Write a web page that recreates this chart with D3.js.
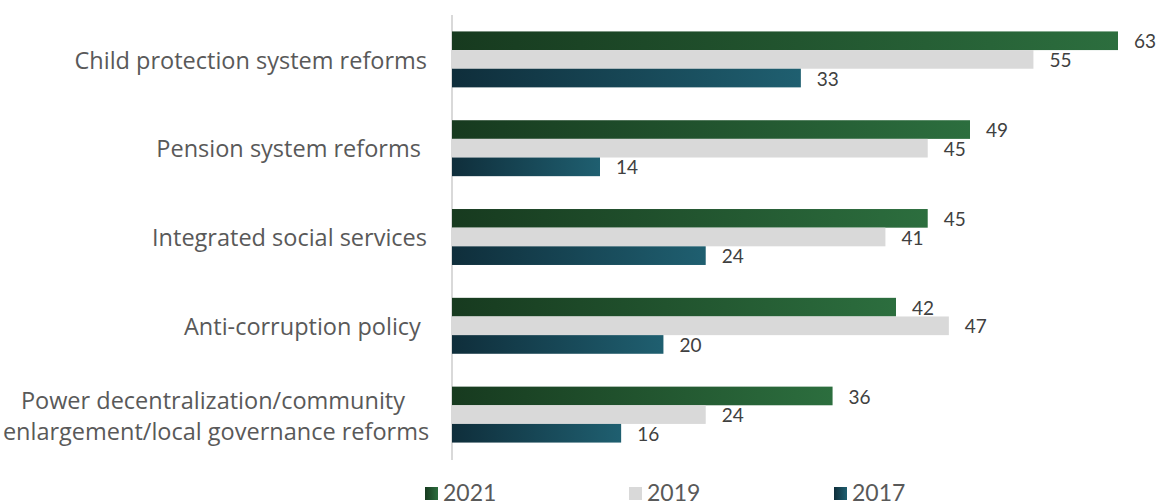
<!DOCTYPE html>
<html>
<head>
<meta charset="utf-8">
<script src="https://cdn.jsdelivr.net/npm/d3@7"></script>
<style>
  html, body { margin: 0; padding: 0; background: #fff; }
  svg { display: block; font-family: Lato, "Open Sans", sans-serif; }
  .catlabel { white-space: pre; }
</style>
</head>
<body>
<svg id="chart" width="1158" height="502"></svg>
<script>
// Categories, top to bottom; multi-line names are split on "|"
const categories = [
  "Child protection system reforms",
  "Pension system reforms ",
  "Integrated social services",
  "Anti-corruption policy ",
  "Power decentralization/community |enlargement/local governance reforms"
];
const years = ["2021", "2019", "2017"];
const values2021 = [63, 49, 45, 42, 36];
const values2019 = [55, 45, 41, 47, 24];
const values2017 = [33, 14, 24, 20, 16];

const seriesValues = { "2021": values2021, "2019": values2019, "2017": values2017 };

const svg = d3.select("#chart");

const x = d3.scaleLinear().domain([0, 63]).range([452, 1118]);
const y = d3.scaleBand().domain(categories).range([15, 459]).paddingInner(0.37).paddingOuter(0.185);
const ySub = d3.scaleBand().domain(years).range([0, y.bandwidth()]);

// Gradient fills per series (left dark -> right lighter)
const defs = svg.append("defs");
const fills = {
  "2021": ["#173a1f", "#2c6e3e"],
  "2019": null,
  "2017": ["#0f2e3b", "#1f5f70"]
};
Object.entries(fills).forEach(([yr, stops]) => {
  if (!stops) return;
  const g = defs.append("linearGradient").attr("id", "grad" + yr)
    .attr("x1", "0").attr("x2", "1").attr("y1", "0").attr("y2", "0");
  g.append("stop").attr("offset", "0%").attr("stop-color", stops[0]);
  g.append("stop").attr("offset", "100%").attr("stop-color", stops[1]);
});
const fillFor = yr => fills[yr] ? `url(#grad${yr})` : "#d9d9d9";

// Category axis line
svg.append("line")
  .attr("x1", x(0)).attr("x2", x(0))
  .attr("y1", 15).attr("y2", 460)
  .attr("stroke", "#d9d9d9").attr("stroke-width", 2);

// Bars and value labels
const groups = svg.selectAll("g.cat").data(categories).join("g")
  .attr("class", "cat")
  .attr("transform", d => `translate(0,${y(d)})`);

years.forEach(yr => {
  groups.append("rect")
    .attr("x", x(0))
    .attr("y", ySub(yr))
    .attr("width", (d, i) => x(seriesValues[yr][i]) - x(0))
    .attr("height", ySub.bandwidth())
    .attr("fill", fillFor(yr));
  groups.append("text")
    .attr("x", (d, i) => x(seriesValues[yr][i]) + 16)
    .attr("y", ySub(yr) + ySub.bandwidth() / 2 + 1)
    .attr("dy", "0.35em")
    .attr("font-size", 19)
    .attr("fill", "#404040")
    .text((d, i) => seriesValues[yr][i]);
});

// Category labels (multi-line names are centred as a block)
const catFont = "'Open Sans', Lato, sans-serif";
groups.each(function(d) {
  const lines = d.split("|");
  const g = d3.select(this);
  const mid = y.bandwidth() / 2;
  const multi = lines.length > 1;
  const lh = 31;
  lines.forEach((ln, k) => {
    g.append("text")
      .attr("class", "catlabel")
      .attr("x", multi ? 216 : 427)
      .attr("y", mid + (k - (lines.length - 1) / 2) * lh + (multi ? 2 : 1))
      .attr("dy", "0.35em")
      .attr("text-anchor", multi ? "middle" : "end")
      .attr("font-family", catFont)
      .attr("font-size", 23.5)
      .attr("fill", "#595959")
      .text(ln);
  });
});

// Legend
const legendX = [425, 629, 834];
const legend = svg.selectAll("g.leg").data(years).join("g")
  .attr("class", "leg")
  .attr("transform", (d, i) => `translate(${legendX[i]},487)`);
legend.append("rect").attr("width", 13).attr("height", 13).attr("fill", d => fillFor(d));
legend.append("text")
  .attr("x", 18).attr("y", 6).attr("dy", "0.35em")
  .attr("font-size", 23).attr("fill", "#595959")
  .text(d => d);
</script>
</body>
</html>
